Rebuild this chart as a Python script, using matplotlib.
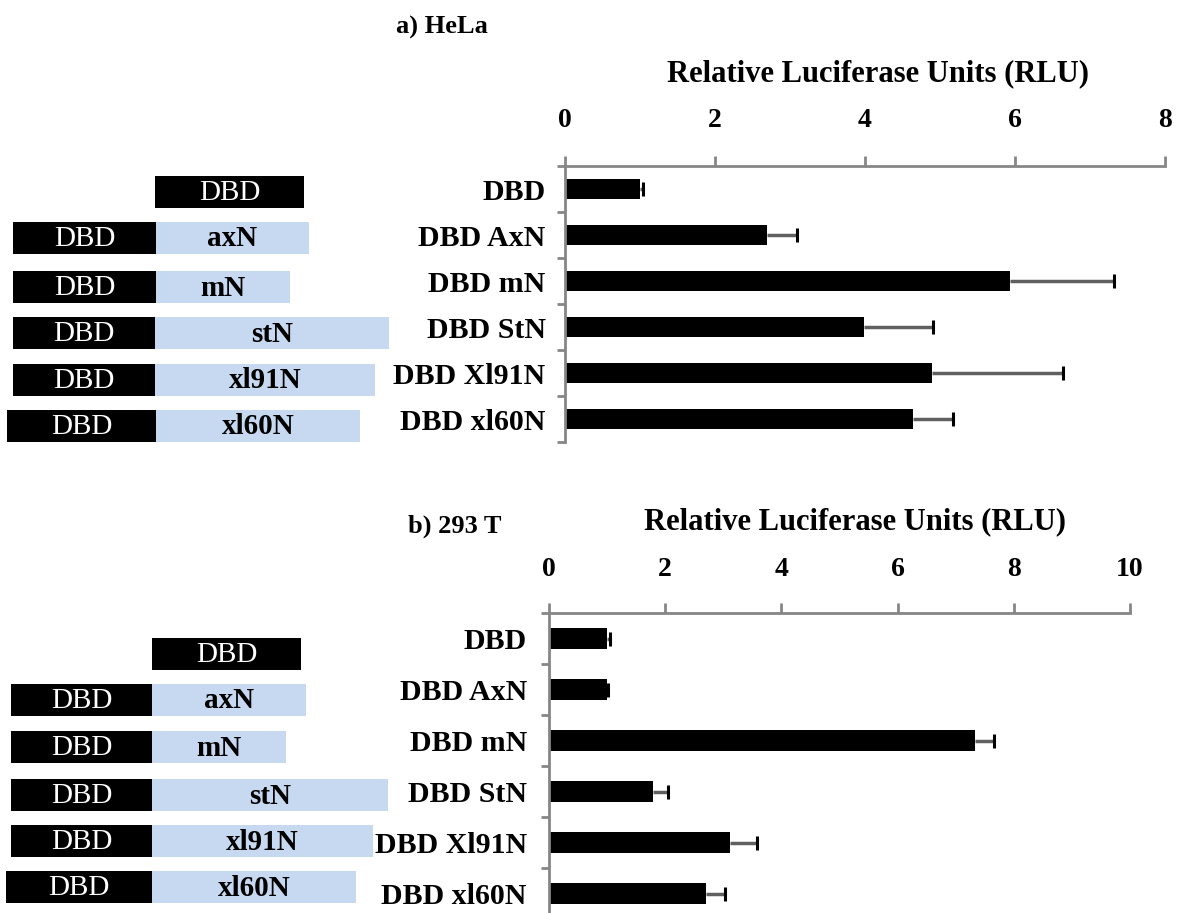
import numpy as np
import matplotlib.pyplot as plt
from matplotlib.patches import Rectangle

# --- data ---
categories = ["DBD", "DBD AxN", "DBD mN", "DBD StN", "DBD Xl91N", "DBD xl60N"]
hela_rlu = [1.00, 2.69, 5.93, 3.99, 4.89, 4.64]
hela_err = [0.04, 0.40, 1.39, 0.91, 1.75, 0.53]
t293_rlu = [0.99, 0.99, 7.34, 1.79, 3.12, 2.71]
t293_err = [0.06, 0.03, 0.32, 0.26, 0.46, 0.32]
hela_ticks = [0, 2, 4, 6, 8]
t293_ticks = [0, 2, 4, 6, 8, 10]

# construct cartoons (left side): DBD + N-terminal domain
domains = [None, "axN", "mN", "stN", "xl91N", "xl60N"]
# pixel extents of the drawn boxes: black DBD start, DBD/domain junction, domain end
dbd_start_a = [155, 13, 13, 13, 13, 7]
junction_a = [304, 156, 156, 155, 155, 156]
domain_end_a = [None, 309, 290, 389, 375, 360]
rows_a = [192, 238, 287, 333, 380, 426]
dbd_start_b = [152, 11, 11, 11, 11, 6]
junction_b = [301, 152, 152, 152, 152, 152]
domain_end_b = [None, 306, 286, 388, 373, 356]
rows_b = [654, 700, 747, 795, 841, 887]

W, H = 1184, 913
SERIF = ["Liberation Serif", "DejaVu Serif"]
GRAY = "#868686"
BLUE = "#C6D9F1"

fig = plt.figure(figsize=(W / 100, H / 100), dpi=100)

# overlay in pixel coordinates for cartoons and titles
ov = fig.add_axes([0, 0, 1, 1], zorder=0)
ov.set_xlim(0, W)
ov.set_ylim(H, 0)
ov.axis("off")


def draw_constructs(starts, juncs, ends, rows):
    for name, s, j, e, yc in zip(domains, starts, juncs, ends, rows):
        h = 32
        ov.add_patch(Rectangle((s, yc - h / 2), j - s, h, color="black", lw=0))
        ov.text((s + j) / 2, yc + 1, "DBD", color="white", ha="center", va="center",
                family=SERIF, fontsize=21)
        if name is not None:
            ov.add_patch(Rectangle((j, yc - h / 2), e - j, h, color=BLUE, lw=0))
            ov.text((j + e) / 2, yc + 1, name, color="black", ha="center", va="center",
                    family=SERIF, fontsize=21, fontweight="bold")


draw_constructs(dbd_start_a, junction_a, domain_end_a, rows_a)
draw_constructs(dbd_start_b, junction_b, domain_end_b, rows_b)

ov.text(442, 27, "a) HeLa", ha="center", va="center", family=SERIF,
        fontsize=19, fontweight="bold")
ov.text(455, 526, "b) 293 T", ha="center", va="center", family=SERIF,
        fontsize=19, fontweight="bold")
ov.text(878, 74, "Relative Luciferase Units (RLU)", ha="center", va="center",
        family=SERIF, fontsize=22, fontweight="bold")
ov.text(855, 522, "Relative Luciferase Units (RLU)", ha="center", va="center",
        family=SERIF, fontsize=22, fontweight="bold")


def bar_panel(x0, x1, ytop, step, values, errs, ticks, ylab_pad, xlab_pad):
    n = len(categories)
    ybot = ytop + n * step
    ax = fig.add_axes([x0 / W, 1 - ybot / H, (x1 - x0) / W, (ybot - ytop) / H], zorder=1)
    ax.patch.set_alpha(0)
    y = np.arange(n)
    ax.barh(y, values, height=0.42, color="black", zorder=2)
    eb = ax.errorbar(values, y, xerr=[np.zeros(n), errs], fmt="none",
                     ecolor="#606060", elinewidth=2.5, capsize=5, capthick=2.2, zorder=3)
    # plus-only error bars: hide the cap at the bar end, black cap at the tip
    eb[1][0].set_visible(False)
    eb[1][1].set_markeredgecolor("black")
    ax.set_xlim(ticks[0], ticks[-1])
    ax.set_ylim(n - 0.5, -0.5)
    ax.xaxis.tick_top()
    ax.set_xticks(ticks)
    ax.set_xticklabels([str(t) for t in ticks], family=SERIF, fontsize=20, fontweight="bold")
    ax.tick_params(axis="x", direction="out", length=7, width=2, color=GRAY, pad=xlab_pad)
    ax.set_yticks(y)
    ax.set_yticklabels(categories, family=SERIF, fontsize=21.5, fontweight="bold")
    ax.tick_params(axis="y", which="major", length=0, pad=ylab_pad)
    ax.set_yticks(np.arange(n + 1) - 0.5, minor=True)
    ax.tick_params(axis="y", which="minor", direction="out", length=6, width=2, color=GRAY)
    for side in ("right", "bottom"):
        ax.spines[side].set_visible(False)
    for side in ("top", "left"):
        ax.spines[side].set_color(GRAY)
        ax.spines[side].set_linewidth(2)
    return ax


bar_panel(565, 1165, 166, 46, hela_rlu, hela_err, hela_ticks, 14, 17)
bar_panel(549, 1130, 613, 51, t293_rlu, t293_err, t293_ticks, 16, 15)

fig.savefig("out.png", dpi=100)
